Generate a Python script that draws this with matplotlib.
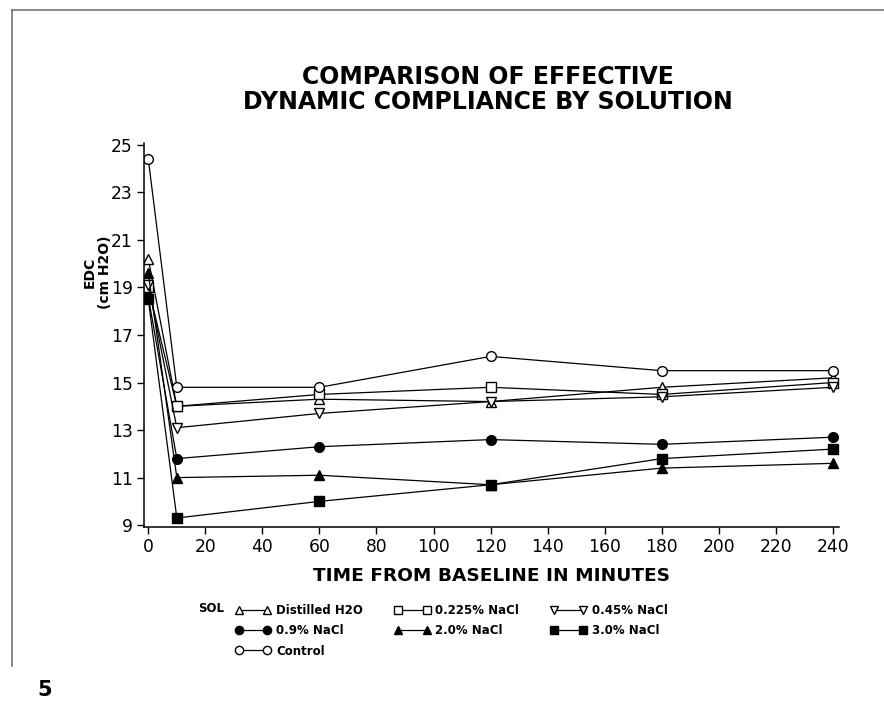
import matplotlib.pyplot as plt
from matplotlib.lines import Line2D

plt.rcParams['font.family'] = ['DejaVu Sans']

times = [0, 10, 60, 120, 180, 240]

distilled = [20.2, 14.0, 14.3, 14.2, 14.8, 15.2]
nacl_0225 = [19.0, 14.0, 14.5, 14.8, 14.5, 15.0]
nacl_045 = [19.1, 13.1, 13.7, 14.2, 14.4, 14.8]
nacl_09 = [18.6, 11.8, 12.3, 12.6, 12.4, 12.7]
nacl_20 = [19.6, 11.0, 11.1, 10.7, 11.4, 11.6]
nacl_30 = [18.5, 9.3, 10.0, 10.7, 11.8, 12.2]
control = [24.4, 14.8, 14.8, 16.1, 15.5, 15.5]

series = [
    ('Distilled H2O', distilled, '^', 'white'),
    ('0.225% NaCl', nacl_0225, 's', 'white'),
    ('0.45% NaCl', nacl_045, 'v', 'white'),
    ('0.9% NaCl', nacl_09, 'o', 'black'),
    ('2.0% NaCl', nacl_20, '^', 'black'),
    ('3.0% NaCl', nacl_30, 's', 'black'),
    ('Control', control, 'o', 'white'),
]

yticks = [9, 11, 13, 15, 17, 19, 21, 23, 25]
xticks = list(range(0, 241, 20))

fig = plt.figure(figsize=(8.84, 7.08), dpi=100)
ax = fig.add_axes([0.1626, 0.2556, 0.786, 0.5424])

handles = {}
for name, vals, mk, fc in series:
    h, = ax.plot(times, vals, color='black', lw=0.9, marker=mk, ms=7,
                 mfc=fc, mec='black', mew=1.0, label=name)
    handles[name] = h

ax.set_xlim(-1.6, 242)
ax.set_ylim(8.92, 25.08)
ax.set_xticks(xticks)
ax.set_yticks(yticks)
ax.tick_params(direction='out', length=5, width=1, labelsize=12.3, pad=3)
for s in ['top', 'right']:
    ax.spines[s].set_visible(False)
for s in ['left', 'bottom']:
    ax.spines[s].set_linewidth(1.1)

ax.set_xlabel('TIME FROM BASELINE IN MINUTES', fontsize=13.3, fontweight='bold', labelpad=8)
ax.set_ylabel('EDC\n(cm H2O)', fontsize=10, fontweight='bold', linespacing=1.1)
ax.yaxis.set_label_coords(-0.046, 0.664)

fig.text(0.552, 0.8736, 'COMPARISON OF EFFECTIVE\nDYNAMIC COMPLIANCE BY SOLUTION',
         ha='center', va='center', fontsize=17, fontweight='bold', linespacing=1.08)

order = ['Distilled H2O', '0.9% NaCl', 'Control', '0.225% NaCl', '2.0% NaCl',
         '0.45% NaCl', '3.0% NaCl']
leg = fig.legend([handles[n] for n in order], order, ncol=3, loc='upper left',
                 bbox_to_anchor=(0.257, 0.158), frameon=False, numpoints=2,
                 handlelength=3.0, handletextpad=0.45, columnspacing=2.68,
                 labelspacing=0.6, markerscale=0.85, borderpad=0.2,
                 prop={'weight': 'bold', 'size': 8.5})
fig.text(0.224, 0.141, 'SOL', fontsize=8.5, fontweight='bold', va='center')

fig.text(0.042, 0.017, '5', fontsize=15, fontweight='bold')
fig.add_artist(Line2D([0.014, 1.0], [0.986, 0.986], color='#777777', lw=1.2))
fig.add_artist(Line2D([0.014, 0.014], [0.986, 0.06], color='#777777', lw=1.2))

fig.savefig('out.png', dpi=100)
